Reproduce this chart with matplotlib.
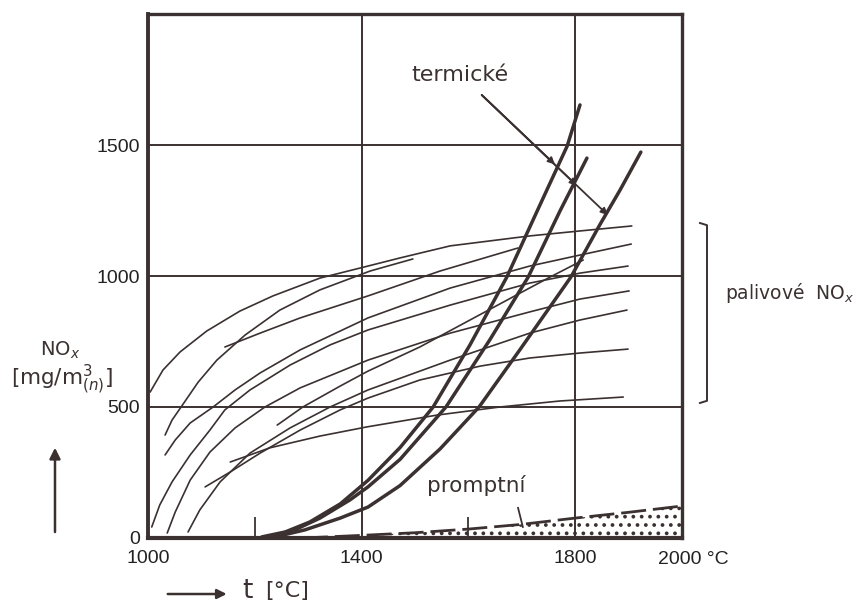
import matplotlib
matplotlib.use("Agg")
import matplotlib.pyplot as plt

INK = "#3b3131"

# fuel NOx curves ("palivové"), temperature [°C] / NOx [mg/m3]
fuel_t = [
    [1004, 1028, 1060, 1110, 1172, 1234, 1322, 1412, 1472, 1566, 1715, 1809, 1906],
    [1032, 1045, 1062, 1094, 1129, 1182, 1247, 1322, 1416, 1496],
    [1144, 1210, 1285, 1412, 1547, 1693],
    [1032, 1051, 1079, 1122, 1163, 1210, 1285, 1412, 1566, 1715, 1809, 1905],
    [1007, 1022, 1045, 1079, 1116, 1144, 1191, 1266, 1341, 1412, 1566, 1715, 1809, 1899],
    [1036, 1051, 1079, 1116, 1163, 1219, 1285, 1412, 1566, 1715, 1809, 1901],
    [1075, 1097, 1135, 1191, 1266, 1341, 1412, 1566, 1715, 1809, 1897],
    [1107, 1154, 1210, 1285, 1360, 1412, 1509, 1622, 1715, 1809, 1899],
    [1154, 1228, 1322, 1410, 1541, 1659, 1772, 1890],
    [1242, 1290, 1360, 1412, 1509, 1603, 1697, 1753, 1815],
]
fuel_v = [
    [557, 641, 710, 790, 866, 924, 992, 1038, 1069, 1115, 1153, 1172, 1191],
    [393, 450, 500, 595, 679, 775, 870, 947, 1019, 1065],
    [729, 782, 840, 924, 1019, 1107],
    [317, 374, 439, 500, 565, 630, 718, 840, 954, 1038, 1080, 1122],
    [42, 126, 214, 317, 412, 489, 565, 660, 737, 794, 889, 973, 1011, 1038],
    [19, 99, 221, 328, 420, 500, 573, 679, 782, 863, 912, 943],
    [23, 107, 214, 324, 420, 500, 565, 679, 782, 832, 870],
    [195, 252, 324, 412, 489, 534, 603, 656, 687, 706, 721],
    [290, 344, 389, 424, 469, 500, 523, 538],
    [431, 500, 580, 637, 729, 832, 935, 996, 1061],
]

# thermal NOx curves ("termické")
therm_t = [
    [1213, 1257, 1303, 1360, 1412, 1472, 1534, 1603, 1672, 1734, 1785, 1809],
    [1225, 1275, 1322, 1378, 1412, 1472, 1558, 1640, 1712, 1772, 1822],
    [1238, 1294, 1360, 1412, 1472, 1547, 1620, 1697, 1792, 1846, 1884, 1923],
]
therm_v = [
    [4, 23, 61, 130, 220, 345, 500, 737, 996, 1271, 1496, 1653],
    [4, 31, 76, 145, 195, 300, 500, 756, 996, 1250, 1450],
    [4, 31, 76, 118, 200, 340, 500, 720, 996, 1195, 1328, 1473],
]

# prompt NOx ("promptní")
prompt_t = [1290, 1400, 1500, 1600, 1700, 1800, 1900, 2000]
prompt_v = [0, 10, 20, 34, 52, 76, 98, 122]

x_ticks = [1000, 1400, 1800]
y_ticks = [0, 500, 1000, 1500]

plt.rcParams["hatch.linewidth"] = 1.5
plt.rcParams["hatch.color"] = INK

fig = plt.figure(figsize=(8.66, 6.07), dpi=100)
ax = fig.add_axes([0.1709, 0.1137, 0.6166, 0.8632])
ax.set_xlim(1000, 2000)
ax.set_ylim(0, 2000)

# grid
for t in (1400, 1800):
    ax.axvline(t, color=INK, lw=1.4, zorder=1)
for v in (500, 1000, 1500):
    ax.axhline(v, color=INK, lw=1.4, zorder=1)

for t, v in zip(fuel_t, fuel_v):
    ax.plot(t, v, color=INK, lw=1.2, solid_capstyle="round",
            solid_joinstyle="round", zorder=2)
for t, v in zip(therm_t, therm_v):
    ax.plot(t, v, color=INK, lw=2.5, solid_capstyle="round",
            solid_joinstyle="round", zorder=3)

# prompt: dashed line with stippled area below
ax.fill_between(prompt_t, 0, prompt_v, facecolor="none", edgecolor=INK,
                hatch="..", lw=0, zorder=1)
ax.plot(prompt_t, prompt_v, color=INK, lw=2.0, dashes=(9, 2.5), zorder=3)

# frame and ticks
for s in ax.spines.values():
    s.set_color(INK)
    s.set_linewidth(2.4)
ax.spines["left"].set_linewidth(2.8)
ax.spines["bottom"].set_linewidth(3.0)
ax.set_xticks(x_ticks)
ax.set_xticklabels([str(t) for t in x_ticks])
ax.set_yticks(y_ticks)
ax.set_yticklabels([str(v) for v in y_ticks])
ax.set_xticks([1200, 1600], minor=True)
ax.tick_params(which="major", length=0, pad=6, labelsize=14, labelcolor="#222222")
ax.tick_params(axis="x", which="major", pad=9)
ax.tick_params(which="minor", direction="in", length=15, width=1.3, color=INK)
for lab in ax.get_xticklabels() + ax.get_yticklabels():
    lab.set_family("Liberation Sans")
fig.text(0.760, 0.0775, "2000 °C", family="Liberation Sans", fontsize=14,
         color="#222222", ha="left", va="center")

# annotations inside plot
ax.text(1584, 1767, "termické", fontsize=16, color=INK, ha="center", va="center")
for end in [(1762, 1426), (1803, 1345), (1861, 1233)]:
    ax.annotate("", xy=end, xytext=(1625, 1691),
                arrowprops=dict(arrowstyle="-|>", color=INK, lw=1.3,
                                mutation_scale=10, shrinkA=0, shrinkB=0))
ax.text(1614, 202, "promptní", fontsize=15.5, color=INK, ha="center", va="center")
ax.plot([1693, 1702], [115, 42], color=INK, lw=1.3)

# right bracket and label
fig.add_artist(plt.Line2D([0.8083, 0.8164, 0.8164, 0.8083],
                          [0.6326, 0.6290, 0.3397, 0.3361],
                          color=INK, lw=1.4))
fig.text(0.837, 0.517, "palivové  NO$_x$", fontsize=13.5, color=INK,
         ha="left", va="center")

# y axis label with arrow
fig.text(0.069, 0.423, "NO$_x$", fontsize=14, color=INK, ha="center", va="center")
fig.text(0.072, 0.374, "[mg/m$^3_{(n)}$]", fontsize=15.5, color=INK,
         ha="center", va="center")
fig.add_artist(matplotlib.patches.FancyArrowPatch(
    (0.0635, 0.119), (0.0635, 0.267), transform=fig.transFigure,
    arrowstyle="-|>", mutation_scale=16, color=INK, lw=1.8))

# x axis label with arrow
fig.add_artist(matplotlib.patches.FancyArrowPatch(
    (0.1905, 0.0214), (0.265, 0.0214), transform=fig.transFigure,
    arrowstyle="-|>", mutation_scale=14, color=INK, lw=1.8))
fig.text(0.286, 0.027, "t", fontsize=19, color=INK, ha="center", va="center")
fig.text(0.306, 0.027, "[°C]", fontsize=16, color=INK, ha="left", va="center")

fig.savefig("out.png", dpi=100, facecolor="white")
